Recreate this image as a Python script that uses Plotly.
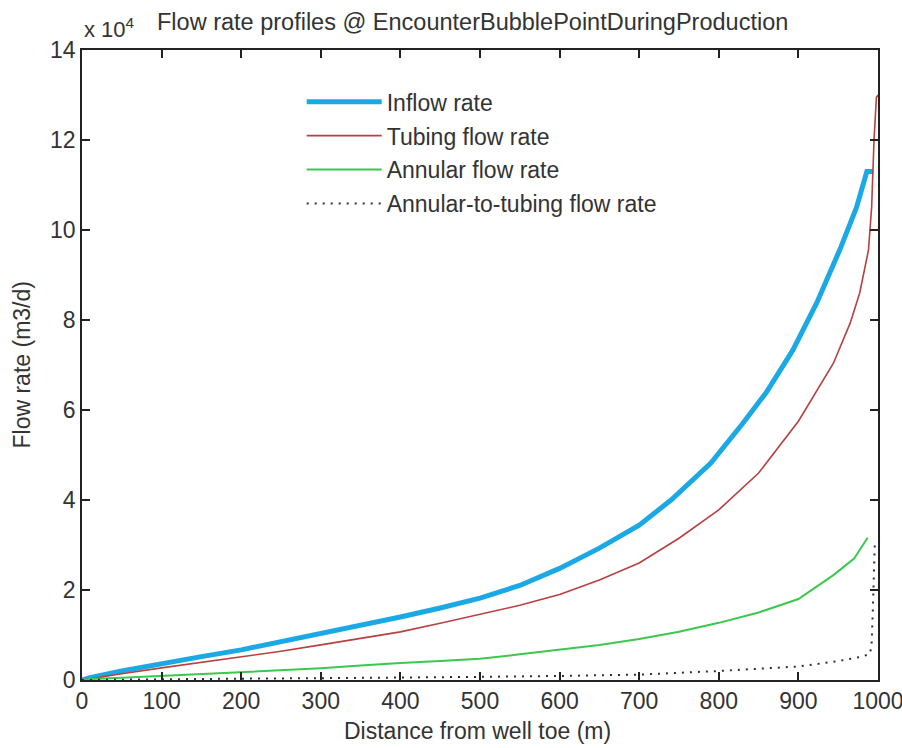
import plotly.graph_objects as go

SCALE = 1e4
# Distances (m) and flow rates (x 10^4 m3/d)
x_inflow = [0, 10, 50, 100, 150, 200, 250, 300, 350, 400, 450, 500, 550, 600, 650, 700, 740, 790, 830, 860, 893, 923, 952, 973, 986, 994]
inflow = [0.0, 0.05, 0.2, 0.37, 0.52, 0.67, 0.85, 1.04, 1.22, 1.4, 1.6, 1.82, 2.1, 2.48, 2.93, 3.44, 4.0, 4.82, 5.7, 6.4, 7.33, 8.38, 9.56, 10.5, 11.3, 11.3]

x_tubing = [0, 10, 50, 100, 150, 200, 250, 300, 350, 400, 450, 500, 550, 600, 650, 700, 750, 800, 850, 900, 944, 965, 977, 988, 992, 995, 998, 1000]
tubing = [0.0, 0.03, 0.14, 0.27, 0.39, 0.51, 0.64, 0.78, 0.92, 1.07, 1.26, 1.46, 1.66, 1.9, 2.22, 2.6, 3.15, 3.78, 4.6, 5.75, 7.04, 7.93, 8.6, 9.55, 10.5, 12.0, 12.95, 13.0]

x_annular = [0, 10, 50, 100, 150, 200, 250, 300, 350, 400, 450, 500, 550, 600, 650, 700, 750, 800, 850, 900, 944, 970, 987]
annular = [0.0, 0.02, 0.05, 0.09, 0.13, 0.18, 0.22, 0.26, 0.32, 0.38, 0.42, 0.47, 0.57, 0.67, 0.78, 0.91, 1.07, 1.27, 1.5, 1.8, 2.33, 2.7, 3.16]

x_a2t = [0, 100, 200, 300, 400, 500, 600, 700, 800, 850, 900, 950, 980, 990, 992, 993.5, 995, 996]
a2t = [0.0, 0.02, 0.03, 0.04, 0.05, 0.07, 0.09, 0.12, 0.2, 0.25, 0.3, 0.42, 0.52, 0.58, 0.8, 1.55, 2.4, 3.04]

x_ticks = [0, 100, 200, 300, 400, 500, 600, 700, 800, 900, 1000]
y_ticks = [0, 2, 4, 6, 8, 10, 12, 14]

FONT = "Liberation Sans, Arial, sans-serif"
TICKFONT = "Liberation Sans Narrow, Arial Narrow, Liberation Sans, sans-serif"
TXT = "#333333"

fig = go.Figure()
fig.add_trace(go.Scatter(x=x_inflow, y=[v * SCALE for v in inflow], mode="lines", legendgroup="a",
                         name="Inflow rate", line=dict(color="#1ba9e6", width=5)))
fig.add_trace(go.Scatter(x=x_tubing, y=[v * SCALE for v in tubing], mode="lines", legendgroup="b",
                         name="Tubing flow rate", line=dict(color="#b8403f", width=1.6)))
fig.add_trace(go.Scatter(x=x_annular, y=[v * SCALE for v in annular], mode="lines", legendgroup="c",
                         name="Annular flow rate", line=dict(color="#3cc84e", width=2)))
fig.add_trace(go.Scatter(x=x_a2t, y=[v * SCALE for v in a2t], mode="lines", legendgroup="d",
                         name="Annular-to-tubing flow rate",
                         line=dict(color="#2a2a4a", width=2, dash="2px,6px")))

axis_common = dict(showgrid=False, zeroline=False, showline=True, linecolor="#222222",
                   linewidth=1.5, mirror="ticks", ticks="inside", ticklen=8,
                   tickcolor="#222222", tickwidth=1.5, automargin=False,
                   tickfont=dict(family=TICKFONT, size=23, color=TXT))

fig.update_xaxes(range=[0, 1000], tickvals=x_ticks, ticktext=[str(t) for t in x_ticks],
                 ticklabeloverflow="allow", **axis_common)
fig.update_yaxes(range=[0, 14 * SCALE], tickvals=[t * SCALE for t in y_ticks],
                 ticktext=[str(t) for t in y_ticks], **axis_common)

fig.update_layout(
    width=902, height=748,
    margin=dict(l=82, r=24, t=50, b=68, autoexpand=False),
    paper_bgcolor="white", plot_bgcolor="white",
    font=dict(family=FONT, color=TXT),
    showlegend=True,
    legend=dict(x=0.276, y=0.952, xanchor="left", yanchor="top", bgcolor="rgba(0,0,0,0)",
                font=dict(family=FONT, size=23, color=TXT), tracegroupgap=1,
                itemwidth=75),
    annotations=[
        dict(text="Flow rate profiles @ EncounterBubblePointDuringProduction",
             xref="paper", yref="paper", x=0.491, y=1.0, yshift=28, xanchor="center", yanchor="middle",
             showarrow=False, font=dict(family=FONT, size=23.5, color=TXT)),
        dict(text="x 10<sup>4</sup>", xref="paper", yref="paper", x=0.0, y=1.0, yshift=22,
             xanchor="left", yanchor="middle", showarrow=False,
             font=dict(family=FONT, size=22, color=TXT)),
        dict(text="Flow rate (m3/d)", xref="paper", yref="paper", x=-0.076, y=0.5,
             xanchor="center", yanchor="middle", textangle=-90, showarrow=False,
             font=dict(family=FONT, size=23, color=TXT)),
        dict(text="Distance from well toe (m)", xref="paper", yref="paper", x=0.497, y=0,
             yshift=-51, xanchor="center", yanchor="middle", showarrow=False,
             font=dict(family=FONT, size=23, color=TXT)),
    ],
)

fig.write_html("out.html")
